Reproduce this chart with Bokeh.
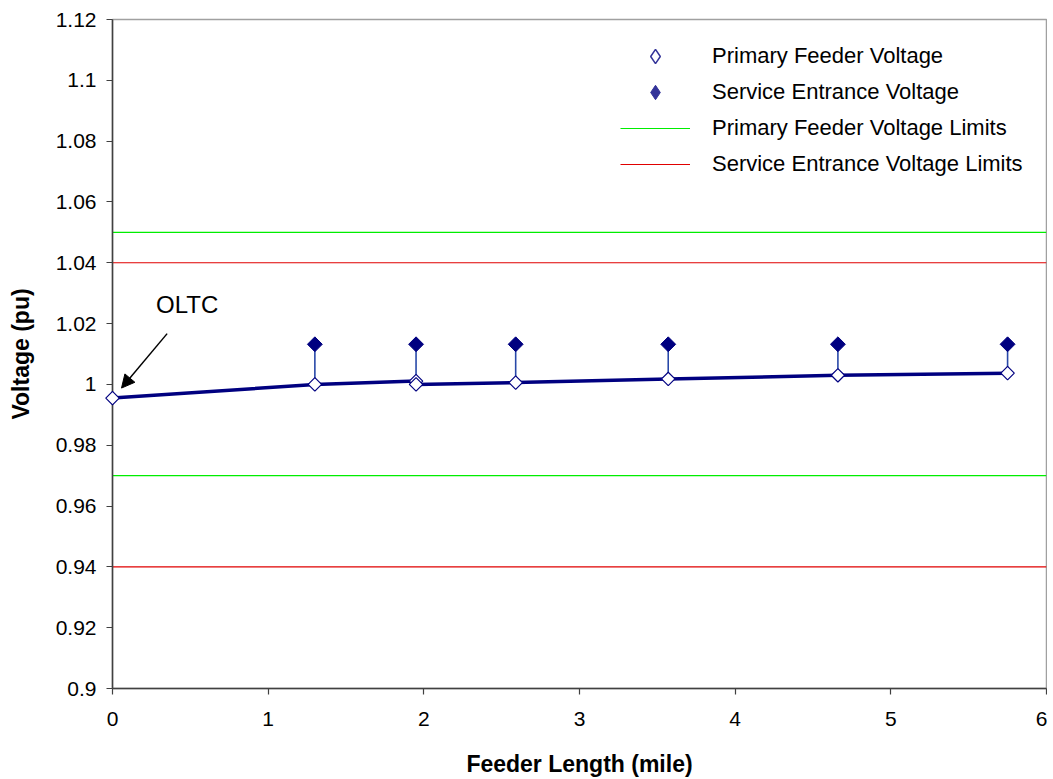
import math
from bokeh.plotting import figure
from bokeh.models import (Range1d, FixedTicker, Legend, LegendItem, Arrow,
                          NormalHead, Label)
from bokeh.embed import file_html
from bokeh.resources import INLINE

# ---------------- data ----------------
feeder_miles = [0.0, 1.30, 1.95, 1.95, 2.59, 3.57, 4.66, 5.75]
primary_voltage = [0.9955, 1.0000, 1.0011, 1.0000, 1.0006, 1.0018, 1.0030, 1.0037]

service_miles = [1.30, 1.95, 2.59, 3.57, 4.66, 5.75]
service_voltage = [1.0132, 1.0132, 1.0132, 1.0132, 1.0132, 1.0132]
stem_base_voltage = [1.0000, 1.0011, 1.0006, 1.0018, 1.0030, 1.0037]

x_extent = [0, 6]
primary_limits = [0.97, 1.05]
service_limits = [0.94, 1.04]

x_ticks = [0, 1, 2, 3, 4, 5, 6]
y_ticks = [0.9, 0.92, 0.94, 0.96, 0.98, 1.0, 1.02, 1.04, 1.06, 1.08, 1.1, 1.12]
y_tick_labels = ["0.9", "0.92", "0.94", "0.96", "0.98", "1", "1.02", "1.04",
                 "1.06", "1.08", "1.1", "1.12"]

series_names = ["Primary Feeder Voltage", "Service Entrance Voltage",
                "Primary Feeder Voltage Limits", "Service Entrance Voltage Limits"]

FONT = "Liberation Sans"
NAVY = "#000080"
GREEN = "#00ee00"
RED = "#e00000"

p = figure(width=1047, height=779, output_backend="svg", toolbar_location=None,
           x_range=Range1d(x_extent[0], x_extent[1]), y_range=Range1d(y_ticks[0], y_ticks[-1]),
           min_border_left=112, min_border_right=1, min_border_top=19, min_border_bottom=91,
           background_fill_color="white", border_fill_color="white")

p.xgrid.visible = False
p.ygrid.visible = False
p.outline_line_color = "#a0a0a0"
p.outline_line_width = 1.5

# limit lines
green_lines = p.multi_line(xs=[x_extent] * len(primary_limits), ys=[[v, v] for v in primary_limits],
                           line_color=GREEN, line_width=1.2)
red_lines = p.multi_line(xs=[x_extent] * len(service_limits), ys=[[v, v] for v in service_limits],
                         line_color=RED, line_width=1.2)

# main feeder line
p.line(feeder_miles, primary_voltage, line_color=NAVY, line_width=3.5)

# stems
p.segment(x0=service_miles, y0=stem_base_voltage, x1=service_miles, y1=service_voltage,
          line_color="#2848a8", line_width=1.6)

# primary diamonds
p.scatter(feeder_miles, primary_voltage, marker="square", angle=math.pi / 4, size=9.5,
          fill_color="white", line_color=NAVY, line_width=1.2, level="overlay")
# service diamonds
p.scatter(service_miles, service_voltage, marker="square", angle=math.pi / 4, size=10.5,
          fill_color=NAVY, line_color=NAVY, line_width=1)

# legend proxies
nan = float("nan")
leg_open = p.scatter([nan], [nan], marker="diamond", fill_color="white",
                     line_color="#333399", line_width=1.5)
leg_fill = p.scatter([nan], [nan], marker="diamond", fill_color="#333399",
                     line_color="#333399", line_width=1)

legend = Legend(items=[
    LegendItem(label=series_names[0], renderers=[leg_open]),
    LegendItem(label=series_names[1], renderers=[leg_fill]),
    LegendItem(label=series_names[2], renderers=[green_lines]),
    LegendItem(label=series_names[3], renderers=[red_lines]),
], location=(508, 506), border_line_color=None, background_fill_alpha=0,
    padding=0, margin=0, spacing=0, glyph_width=70, glyph_height=36, label_height=36,
    label_standoff=22, label_text_font=FONT, label_text_font_size="22px",
    label_text_color="black")
p.add_layout(legend)

# annotation
p.add_layout(Arrow(end=NormalHead(size=13, fill_color="black", line_color="black"),
                   x_start=0.351, y_start=1.0167, x_end=0.058, y_end=0.9988,
                   line_color="black", line_width=1.5))
p.add_layout(Label(x=0.48, y=1.0262, text="OLTC", text_align="center",
                   text_baseline="middle", text_font=FONT, text_font_size="24px",
                   text_color="black"))

# axes
for ax in (p.xaxis[0], p.yaxis[0]):
    ax.axis_line_color = "#404040"
    ax.axis_line_width = 1.5
    ax.major_tick_line_color = "#404040"
    ax.major_tick_line_width = 1.2
    ax.major_tick_out = 6
    ax.major_tick_in = 0
    ax.minor_tick_line_color = None
    ax.major_label_text_font = FONT
    ax.major_label_text_font_size = "21px"
    ax.major_label_text_color = "black"
    ax.axis_label_text_font = FONT
    ax.axis_label_text_font_style = "bold"
    ax.axis_label_text_font_size = "23px"
    ax.axis_label_text_color = "black"

p.xaxis.ticker = FixedTicker(ticks=x_ticks)
p.yaxis.ticker = FixedTicker(ticks=y_ticks)
p.yaxis.major_label_overrides = dict(zip(y_ticks, y_tick_labels))
p.xaxis.major_label_standoff = 17
p.yaxis.major_label_standoff = 10
p.xaxis.axis_label = "Feeder Length (mile)"
p.yaxis.axis_label = "Voltage (pu)"
p.xaxis.axis_label_standoff = 22
p.yaxis.axis_label_standoff = 19

open("out.html", "w").write(file_html(p, INLINE))
